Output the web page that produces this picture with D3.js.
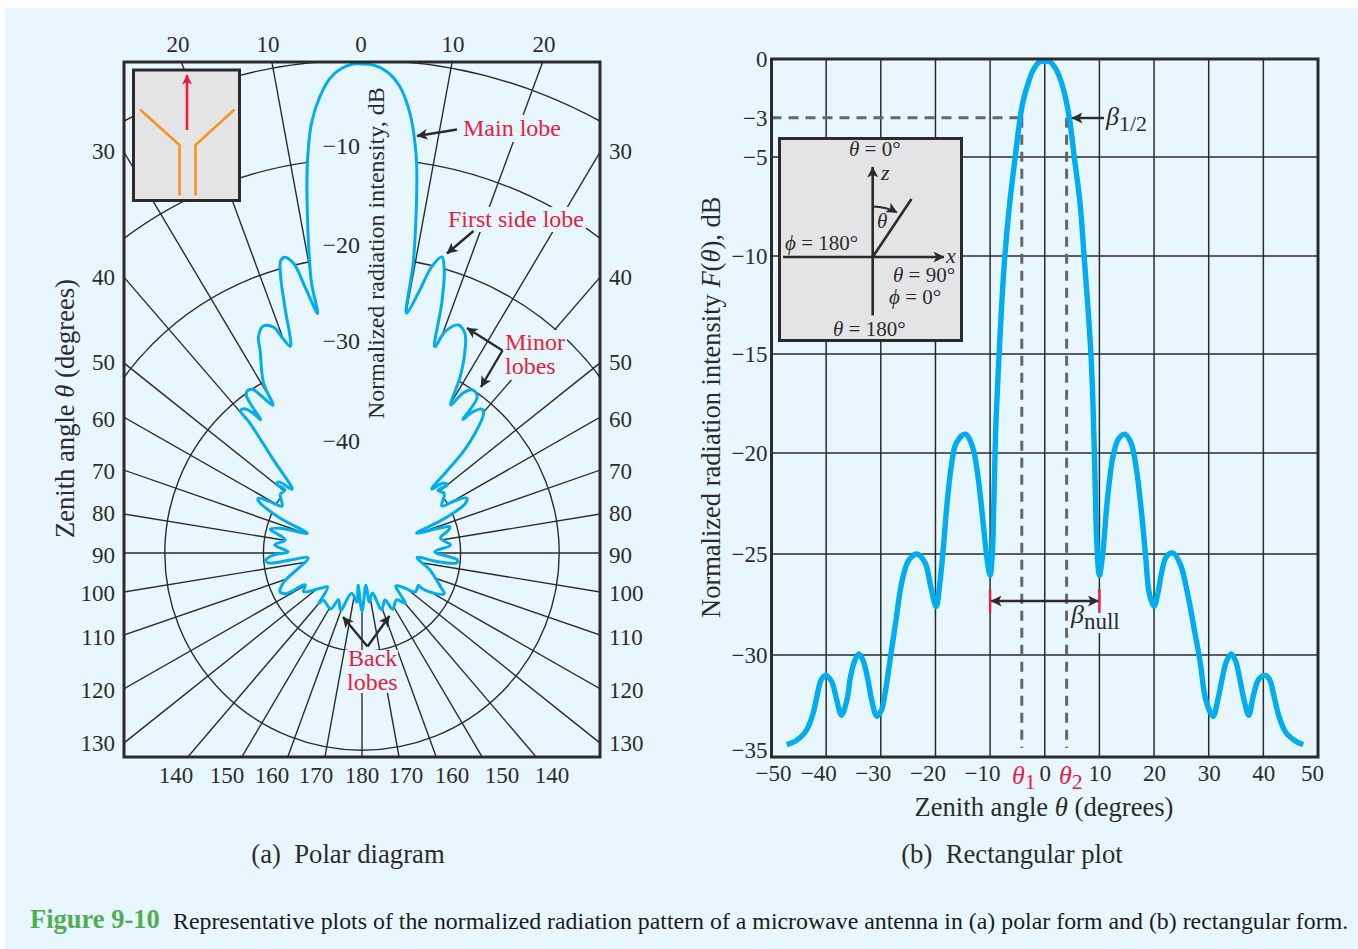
<!DOCTYPE html>
<html><head><meta charset="utf-8">
<script src="https://cdnjs.cloudflare.com/ajax/libs/d3/7.8.5/d3.min.js"></script>
<style>html,body{margin:0;padding:0;background:#fff}svg{display:block}text{font-family:"Liberation Serif",serif;fill:#2b2b2b}</style>
</head><body><svg id="c" width="1358" height="949"></svg>
<script>
// ---------- data ----------
const polarTheta = [0,1.33,2.94,4.65,6.23,7.37,8.06,9.12,10.04,10.55,12.4,13.7,15.1,16.2,17.7,19.5,20.6,22.9,25.1,26.9,29.1,31,32.3,34.3,36.4,37.1,38,39.8,41,43,45,46,47.6,49.4,51.4,50.5,54,59.5,60.6,62.4,64.2,67.3,70.2,72.1,73.4,75.1,79.3,84.8,89,94.2,95.8,96.5,94.9,104,113.9,116.2,118.3,120.6,119.6,126.1,129.4,134.1,139.5,143.6,151.4,153.9,160.9,165.7,171.5,172.9,180,-173,-174.1,-165.7,-159.5,-153.2,-150.9,-140.5,-139.5,-134.7,-130,-123.4,-119.3,-118,-115.3,-111,-95,-95.6,-95.9,-94.2,-91.3,-89,-84.7,-80.4,-75.4,-73.2,-70.2,-67,-63.2,-62.2,-60.9,-59.6,-54.3,-50.7,-51,-49.5,-47.7,-43.6,-40.8,-40.4,-39.3,-38,-37.3,-36.4,-35.6,-33.9,-32.8,-31.1,-30.1,-26.7,-25.6,-23.5,-21.4,-20.4,-19.2,-17.4,-16.4,-15.5,-14.6,-13.3,-12.1,-10.5,-10.6,-10.1,-9.2,-8.06,-6.7,-5.26,-3.86,-2.4,-1.02];
const polarDb = [-0.4,-0.5,-1.1,-2.55,-5.15,-8.1,-10.4,-15.45,-20.2,-25.25,-22.7,-20.1,-18.9,-20.1,-23.4,-27.8,-26,-24.9,-25.4,-26.9,-29.5,-32.5,-30.8,-30,-30.3,-33,-31.9,-31,-31.2,-32.9,-35.5,-38,-40.4,-39.1,-38.9,-40,-39.7,-40.6,-39.2,-38,-38.3,-40.9,-44.1,-41.9,-40.7,-40.9,-41.9,-41,-42.6,-40.3,-40.3,-42.2,-44.4,-42.9,-41.2,-40.7,-41.2,-43,-43.4,-43.3,-44.4,-45.2,-43.3,-44.1,-43.5,-44.7,-43.9,-45.8,-45,-46.7,-44.1,-46.7,-45,-45.8,-43.8,-44.7,-43.5,-43.8,-43.3,-45.1,-44.4,-42.9,-43.4,-41.2,-40.8,-41.4,-44.5,-42.7,-40.4,-40.2,-41,-42.5,-41.1,-42.1,-40.4,-41.3,-44.1,-41,-38.2,-38.1,-39.3,-40.6,-39.8,-39.9,-38.9,-38.9,-40.4,-37,-32.6,-31,-31.1,-31.9,-33,-30.3,-29.9,-30,-30.9,-32.5,-30.1,-27,-25.7,-24.9,-25.4,-26.6,-27.8,-23.8,-20.8,-19.2,-19,-19.8,-22.4,-25.3,-22.2,-19.5,-15.4,-10.4,-6.1,-3.5,-1.75,-0.8,-0.4];
const polarRings = [0,-10,-20,-30,-40];
const radialAngles = [10.4,20.2,30.7,40.8,51.4,60.3,70.8,80.7,90,99.3,109,119.7,128.6,139.5,149.5,160,169.7,180];
const sideTicks = ["30","40","50","60","70","80","90","100","110","120","130"];
const topTicks = ["20","10","0","10","20"];
const bottomTicks = ["140","150","160","170","180","170","160","150","140"];
const ringLabels = ["−10","−20","−30","−40"];

const rectTheta = [-47.2,-45.53,-43.87,-42.53,-41.67,-40.87,-40.07,-39,-38.07,-37.2,-36.2,-35.53,-34.73,-34,-33.2,-32.4,-31.67,-30.73,-29.87,-29.2,-28.2,-27.2,-26.2,-24.87,-23.4,-21.87,-20.87,-19.87,-19.2,-18.53,-17.87,-17.07,-16.2,-14.53,-13.2,-12.2,-11.2,-10.53,-10,-9.6,-9.3,-9,-8.75,-8.35,-7.9,-7.3,-6.4,-5.4,-4.6,-4,-3,-2.1,-1,0,1,2.13,3.05,3.97,4.6,5.4,6.45,7.2,7.9,8.45,8.8,9.15,9.5,10,10.6,11.47,12.47,13.47,14.67,15.8,16.8,17.8,18.47,19.13,20,20.8,21.47,22.33,23.47,24.8,26.13,27.47,28.47,29.47,30.8,31.67,32.47,33.27,34.13,34.93,35.67,36.47,37.33,38.13,39.13,40.33,41.13,41.93,42.8,44.13,45.8,47.27];
const rectDb = [-34.4,-34.2,-33.8,-33,-32,-31.2,-31,-31.3,-32.2,-32.95,-32.2,-31.05,-30.25,-29.95,-30.3,-31.15,-32.2,-33,-32.7,-31.85,-30.05,-28.25,-26.45,-25.3,-25,-25.45,-26.6,-27.6,-26.45,-24.6,-22.5,-20.6,-19.5,-19.05,-19.7,-21.2,-23.65,-25.3,-26.05,-25,-22.3,-19,-17.3,-15,-12.6,-10,-7.3,-5,-3.2,-2.2,-1.2,-0.56,-0.15,-0.1,-0.15,-0.56,-1.2,-2.2,-3.2,-5,-7.3,-10,-12.6,-15,-17.3,-20.7,-24.3,-26.05,-25,-22.3,-20.2,-19.3,-19.05,-19.5,-20.85,-23.2,-25.15,-26.95,-27.6,-26.8,-25.8,-25.1,-24.95,-25.5,-26.95,-28.9,-30.4,-32.2,-33,-32.2,-31.15,-30.3,-29.95,-30.3,-31.15,-32.2,-32.95,-32.05,-31.2,-31,-31.2,-32,-32.95,-33.8,-34.2,-34.4];
const xTicks = [-50,-40,-30,-20,-10,0,10,20,30,40,50];
const yGrid = [0,-5,-10,-15,-20,-25,-30,-35];
const yTicks = [0,-3,-5,-10,-15,-20,-25,-30,-35];
const halfPowerDb = -3;
const theta1 = -4.2, theta2 = 4.0, nullLeft = -10, nullRight = 10;

// ---------- layout & style ----------
const BG="#e8f7ff", INK="#2b2b2b", BLUE="#00aeef", RED="#ed1c3a", ORANGE="#f7941d", GREY="#e4e4e6", DASH="#666";
const TICK=23;
const svg=d3.select("#c");
svg.append("rect").attr("x",5).attr("y",8).attr("width",1353).attr("height",941).attr("fill",BG);
const defs=svg.append("defs");
function marker(id,color,w,h){
  defs.append("marker").attr("id",id).attr("viewBox","0 0 10 10").attr("refX",9.5).attr("refY",5)
   .attr("markerUnits","userSpaceOnUse").attr("markerWidth",w).attr("markerHeight",h).attr("orient","auto-start-reverse")
   .append("path").attr("d","M0,0L10,5L0,10L2.5,5Z").attr("fill",color);
}
marker("blk",INK,15,11); marker("red",RED,12,10);

function text(s,x,y,o={}){
  const t=svg.append("text").attr("x",x).attr("y",y).attr("font-size",o.size||TICK)
    .attr("text-anchor",o.anchor||"start").style("fill",o.fill||INK);
  if(o.rotate) t.attr("transform",`rotate(${o.rotate} ${x} ${y})`);
  if(o.weight) t.attr("font-weight",o.weight);
  const parts=Array.isArray(s)?s:[s];
  parts.forEach(p=>{
    if(typeof p==="string"){t.append("tspan").text(p);return;}
    const sp=t.append("tspan").text(p.t);
    if(p.i) sp.attr("font-style","italic");
    if(p.sub) sp.attr("font-size",p.sub).attr("dy",p.dy);
  });
  return t;
}

// ---------- (a) polar ----------
const F={l:124,r:600,t:62,b:757}, C={x:362,y:553};
defs.append("clipPath").attr("id","pf").append("rect").attr("x",F.l).attr("y",F.t).attr("width",F.r-F.l).attr("height",F.b-F.t);
const rScale=d3.scaleLinear().domain([-50,0]).range([0,493]);
const pg=svg.append("g").attr("clip-path","url(#pf)").append("g").attr("transform",`translate(${C.x},${C.y})`);
// outer rings are only drawn across the upper half
const ringArc=d=>{const r=rScale(d),a=d>-30?Math.PI/2:Math.PI;return d3.arc()({innerRadius:r,outerRadius:r,startAngle:-a,endAngle:a});};
pg.selectAll("path.ring").data(polarRings).join("path").attr("class","ring").attr("d",ringArc).attr("fill","none").attr("stroke",INK).attr("stroke-width",1.4);
const rad=d=>d*Math.PI/180;
const spokes=radialAngles.flatMap(a=>a===180?[a]:[a,-a]);
pg.selectAll("line.s").data(spokes).join("line").attr("class","s")
  .attr("x1",0).attr("y1",0).attr("x2",d=>900*Math.sin(rad(d))).attr("y2",d=>-900*Math.cos(rad(d)))
  .attr("stroke",INK).attr("stroke-width",1.4);
const polarPts=polarTheta.map((t,i)=>[rad(t),rScale(polarDb[i])]);
const radial=d3.lineRadial().angle(d=>d[0]).radius(d=>d[1]).curve(d3.curveCatmullRomClosed.alpha(0.6));
pg.append("path").attr("d",radial(polarPts)).attr("fill",BG).attr("stroke",BLUE).attr("stroke-width",3).attr("stroke-linejoin","round");
// text knock-outs
[[460,115,103,27],[445,207,141,25],[503,330,64,50],[345,650,53,43]].forEach(r=>
  svg.append("rect").attr("x",r[0]).attr("y",r[1]).attr("width",r[2]).attr("height",r[3]).attr("fill",BG));
svg.append("rect").attr("x",F.l).attr("y",F.t).attr("width",F.r-F.l).attr("height",F.b-F.t).attr("fill","none").attr("stroke",INK).attr("stroke-width",3);

// inset horn
svg.append("rect").attr("x",133.5).attr("y",70).attr("width",106).attr("height",130.5).attr("fill",GREY).attr("stroke",INK).attr("stroke-width",3);
const ln=d3.line();
[[[140,109.5],[179.5,145],[179.5,195.5]],[[234.5,109.5],[195.5,145],[195.5,195.5]]].forEach(p=>
  svg.append("path").attr("d",ln(p)).attr("fill","none").attr("stroke",ORANGE).attr("stroke-width",2.6));
svg.append("line").attr("x1",187).attr("y1",130).attr("x2",187).attr("y2",75).attr("stroke",RED).attr("stroke-width",2.6).attr("marker-end","url(#red)");

// polar tick labels
const topX=[178,268,361,453,544];
topTicks.forEach((t,i)=>text(t,topX[i],52,{anchor:"middle"}));
const sideY=[151,277,362,419,471,513,555,593,637,690,743];
sideTicks.forEach((t,i)=>{text(t,115,sideY[i]+7.5,{anchor:"end"});text(t,609,sideY[i]+7.5);});
const botX=[176,227,272,316,362,406,452,502,552];
bottomTicks.forEach((t,i)=>text(t,botX[i],783,{anchor:"middle"}));
const ringY=[153.5,252.5,348.5,448.5];
ringLabels.forEach((t,i)=>text(t,360,ringY[i],{anchor:"end",size:24}));
text("Normalized radiation intensity, dB",384,419,{rotate:-90,size:24});
text(["Zenith angle ",{t:"θ",i:1}," (degrees)"],74,538,{rotate:-90,size:26.6});

// polar annotations
function arrow(pts){svg.append("path").attr("d",ln(pts)).attr("fill","none").attr("stroke",INK).attr("stroke-width",2.4).attr("marker-end","url(#blk)");}
arrow([[457,129.5],[417,136]]);
arrow([[473.5,231],[447,253.5]]);
arrow([[502.5,350.5],[467,328]]);
arrow([[502.5,350.5],[481,387]]);
arrow([[367.5,646.5],[343,617]]);
arrow([[367.5,646.5],[389.5,616]]);
const lab={size:24,fill:RED};
text("Main lobe",463,135.5,lab);
text("First side lobe",448,227,lab);
text("Minor",505,350,lab); text("lobes",505,374,lab);
text("Back",348,666,lab); text("lobes",347,690,lab);

// ---------- (b) rectangular ----------
const R={l:771.5,r:1318,t:59,b:757};
const x=d3.scaleLinear().domain([-50,50]).range([R.l,R.r]);
const y=d3.scaleLinear().domain(yGrid).range([R.t,157,256,354,453,554,655,R.b]);
const rg=svg.append("g");
rg.selectAll("line.v").data(xTicks.slice(1,-1)).join("line").attr("class","v").attr("x1",d=>x(d)).attr("x2",d=>x(d)).attr("y1",R.t).attr("y2",R.b).attr("stroke",INK).attr("stroke-width",1.5);
rg.selectAll("line.h").data(yGrid.slice(1,-1)).join("line").attr("class","h").attr("x1",R.l).attr("x2",R.r).attr("y1",d=>y(d)).attr("y2",d=>y(d)).attr("stroke",INK).attr("stroke-width",1.6);
// dashed guides
const dashed=(a,b,c,e)=>svg.append("line").attr("x1",a).attr("y1",b).attr("x2",c).attr("y2",e).attr("stroke",DASH).attr("stroke-width",3).attr("stroke-dasharray","10 7");
dashed(R.l,y(halfPowerDb),x(theta1),y(halfPowerDb));
dashed(x(theta1),y(halfPowerDb),x(theta1),748);
dashed(x(theta2),y(halfPowerDb),x(theta2),748);
// curve
const rectLine=d3.line().x((d,i)=>x(rectTheta[i])).y((d,i)=>y(rectDb[i])).curve(d3.curveCatmullRom.alpha(0.5));
svg.append("path").attr("d",rectLine(rectTheta)).attr("fill","none").attr("stroke",BLUE).attr("stroke-width",5.4).attr("stroke-linejoin","round");
svg.append("rect").attr("x",R.l).attr("y",R.t).attr("width",R.r-R.l).attr("height",R.b-R.t).attr("fill","none").attr("stroke",INK).attr("stroke-width",3);

// axes (labels only, grid drawn above)
const fmt=d=>d<0?"−"+(-d):""+d;
const ax=svg.append("g").attr("transform",`translate(0,${R.b})`).call(d3.axisBottom(x).tickValues(xTicks).tickSize(0).tickFormat(fmt));
ax.select(".domain").remove();
ax.selectAll("text").attr("font-size",TICK).attr("font-family","Liberation Serif").attr("y",24).attr("dy",0).style("fill",INK)
  .attr("dx",d=>d===-50?1.5:(d<0?-8:(d===50?-6:0)));
const ay=svg.append("g").attr("transform",`translate(${R.l},0)`).call(d3.axisLeft(y).tickValues(yTicks).tickSize(0).tickFormat(fmt));
ay.select(".domain").remove();
ay.selectAll("text").attr("font-size",TICK).attr("font-family","Liberation Serif").attr("x",-4).attr("dy",d=>d===-35?"-0.0em":"0.32em").style("fill",INK);

text([{t:"θ",i:1},{t:"1",sub:22,dy:5}],1012,784,{size:26,fill:RED});
text([{t:"θ",i:1},{t:"2",sub:22,dy:5}],1059,784,{size:26,fill:RED});
text(["Normalized radiation intensity ",{t:"F",i:1},"(",{t:"θ",i:1},"), dB"],720,618,{rotate:-90,size:26.5});
text(["Zenith angle ",{t:"θ",i:1}," (degrees)"],1044,816,{anchor:"middle",size:26.6});

// beta annotations
svg.append("line").attr("x1",1104).attr("y1",118).attr("x2",1072).attr("y2",118).attr("stroke",INK).attr("stroke-width",2.4).attr("marker-end","url(#blk)");
text([{t:"β",i:1},{t:"1/2",sub:22,dy:6}],1106,125,{size:26});
svg.append("rect").attr("x",1068).attr("y",605).attr("width",53).attr("height",28).attr("fill",BG);
svg.append("line").attr("x1",x(nullLeft)+1).attr("y1",601).attr("x2",x(nullRight)-1).attr("y2",601).attr("stroke",INK).attr("stroke-width",2.4)
  .attr("marker-end","url(#blk)").attr("marker-start","url(#blk)");
[nullLeft,nullRight].forEach(d=>svg.append("line").attr("x1",x(d)).attr("x2",x(d)).attr("y1",589).attr("y2",613).attr("stroke",RED).attr("stroke-width",2.4));
text([{t:"β",i:1},{t:"null",sub:23,dy:6}],1071,623,{size:26});

// coordinate inset
svg.append("rect").attr("x",779.5).attr("y",138.5).attr("width",182).attr("height",202).attr("fill",GREY).attr("stroke",INK).attr("stroke-width",3);
const seg=(a,b,c,e,m)=>{const l=svg.append("line").attr("x1",a).attr("y1",b).attr("x2",c).attr("y2",e).attr("stroke",INK).attr("stroke-width",2.6);if(m)l.attr("marker-end","url(#blk)");};
seg(872.7,315.5,872.7,167,true);
seg(783,257,944,257,true);
seg(872.7,257,911.5,199);
svg.append("path").attr("d","M872.7,206.5Q887,207 897,212.5").attr("fill","none").attr("stroke",INK).attr("stroke-width",1.8).attr("marker-end","url(#blk)");
const is={size:21};
text([{t:"θ",i:1}," = 0°"],849,156,is);
text([{t:"z",i:1}],881,180,{size:22});
text([{t:"x",i:1}],946,263,{size:22});
text([{t:"θ",i:1}],877,228,is);
text([{t:"ϕ",i:1}," = 180°"],785,250,is);
text([{t:"θ",i:1}," = 90°"],893,282,is);
text([{t:"ϕ",i:1}," = 0°"],889,304,is);
text([{t:"θ",i:1}," = 180°"],833,336,is);

// captions
text("(a)  Polar diagram",348,863,{anchor:"middle",size:26.7}).style("white-space","pre");
text("(b)  Rectangular plot",1012,863,{anchor:"middle",size:26.7}).style("white-space","pre");
text("Figure 9-10",30,928,{size:26.5,weight:"bold",fill:"#4fae52"});
text("Representative plots of the normalized radiation pattern of a microwave antenna in (a) polar form and (b) rectangular form.",173,929,{size:23.85,fill:"#1a1a1a"});
</script></body></html>
